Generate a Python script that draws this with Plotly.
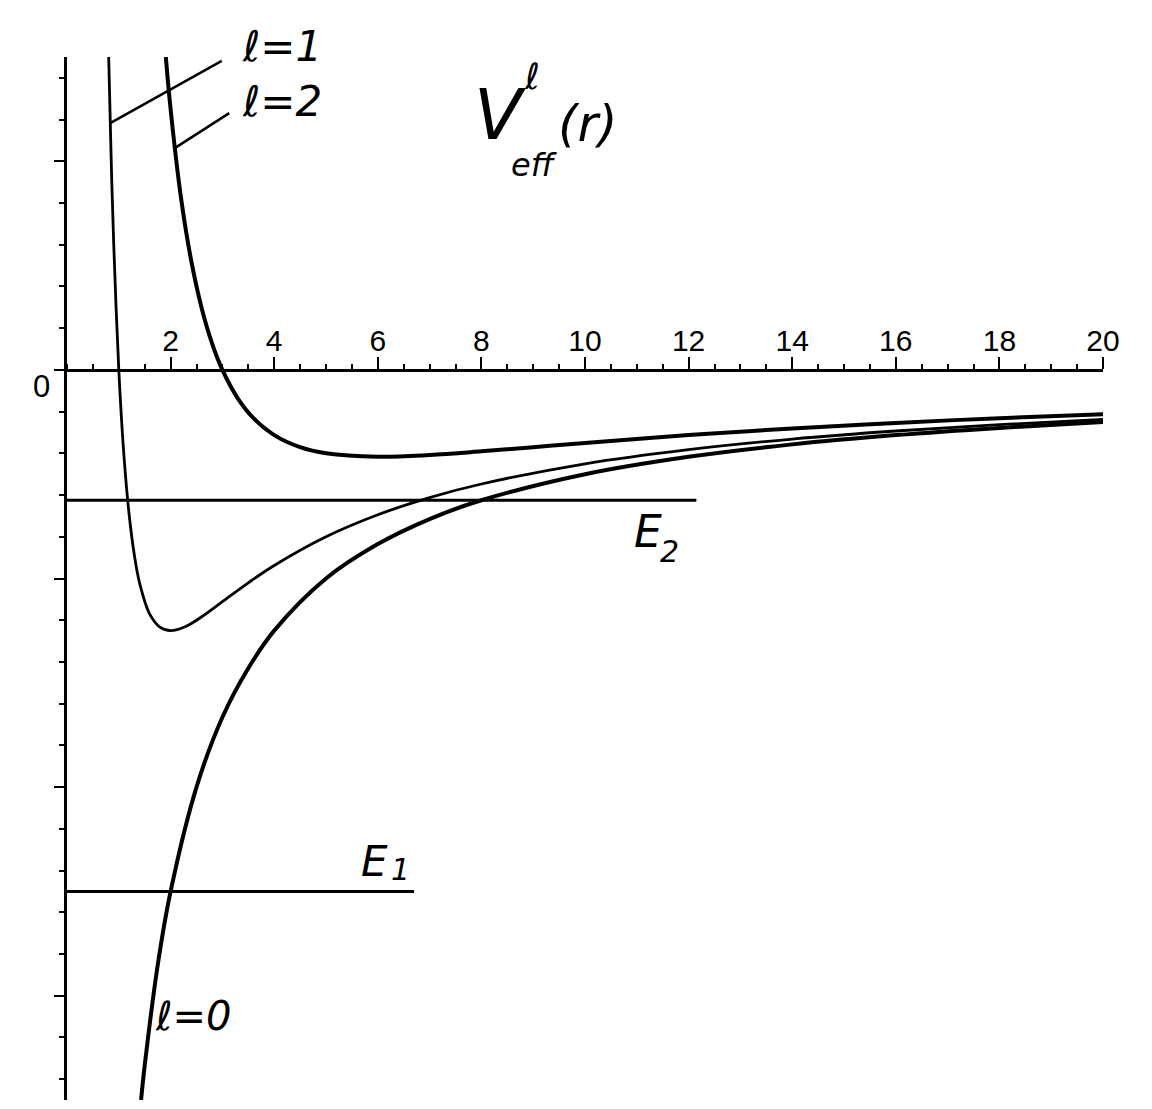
import plotly.graph_objects as go

# ---- data (atomic units, hydrogen) ----
r_l0 = [1.43, 1.5, 1.75, 2.0, 2.5, 3.0, 3.5, 4.0, 5.0, 6.0, 7.0, 8.0, 10.0, 12.0, 14.0, 16.0, 18.0, 20.0]
v_l0 = [-0.70, -0.667, -0.571, -0.50, -0.40, -0.333, -0.286, -0.25, -0.20, -0.167, -0.143, -0.125,
        -0.10, -0.0833, -0.0714, -0.0625, -0.0556, -0.05]

r_l1 = [0.805, 0.85, 0.9, 1.0, 1.1, 1.2, 1.3, 1.4, 1.6, 1.8, 2.0, 2.3, 2.6, 3.0, 3.5, 4.0, 5.0,
        6.0, 7.0, 8.0, 10.0, 12.0, 14.0, 16.0, 18.0, 20.0]
v_l1 = [0.30, 0.2076, 0.1235, 0.0, -0.0826, -0.1389, -0.1775, -0.2041, -0.2344, -0.2469, -0.25,
        -0.2457, -0.2367, -0.2222, -0.2041, -0.1875, -0.16, -0.1389, -0.1224, -0.1094, -0.09,
        -0.0764, -0.0663, -0.0586, -0.0525, -0.0475]

r_l2 = [1.908, 2.0, 2.2, 2.4, 2.6, 2.8, 3.0, 3.3, 3.6, 4.0, 4.5, 5.0, 6.0, 7.0, 8.0, 9.0, 10.0,
        12.0, 14.0, 16.0, 18.0, 20.0]
v_l2 = [0.30, 0.25, 0.1653, 0.1042, 0.0592, 0.0255, 0.0, -0.0275, -0.0463, -0.0625, -0.0741, -0.08,
        -0.0833, -0.0816, -0.0781, -0.0741, -0.07, -0.0625, -0.0561, -0.0508, -0.0463, -0.0425]

e_levels = [-0.5, -0.125]          # E1, E2
e_extent = [6.7, 12.15]            # how far each level line is drawn in r

x_ticks = [2, 4, 6, 8, 10, 12, 14, 16, 18, 20]
x_ticklabels = [str(v) for v in x_ticks]

HAND = "DejaVu Sans"

fig = go.Figure()

# energy levels
for e, xe in zip(e_levels, e_extent):
    fig.add_trace(go.Scatter(x=[0, xe], y=[e, e], mode="lines",
                             line=dict(color="black", width=3), hoverinfo="skip"))

fig.add_trace(go.Scatter(x=r_l1, y=v_l1, mode="lines", line=dict(color="black", width=2.8, shape="spline")))
fig.add_trace(go.Scatter(x=r_l0, y=v_l0, mode="lines", line=dict(color="black", width=4, shape="spline")))
fig.add_trace(go.Scatter(x=r_l2, y=v_l2, mode="lines", line=dict(color="black", width=4, shape="spline")))


def hand(x, y, text, size, yref="y"):
    return dict(x=x, y=y, yref=yref, xanchor="center", yanchor="middle",
                text=f"<i>{text}</i>", showarrow=False,
                font=dict(family=HAND, size=size, color="black"))


ann = []
# curve labels (handwritten style)
ann.append(hand(4.16, 1.0097, "ℓ=1", 42, yref="paper"))
ann.append(hand(4.16, 0.257, "ℓ=2", 42))
ann.append(hand(2.44, -0.619, "ℓ=0", 40))
# leader lines
ann.append(dict(x=0.835, y=0.2366, text=" ", showarrow=True, arrowhead=0, arrowwidth=2.5,
                arrowcolor="black", ax=113, ay=-63, font=dict(size=1)))
ann.append(dict(x=2.08, y=0.2126, text=" ", showarrow=True, arrowhead=0, arrowwidth=2.5,
                arrowcolor="black", ax=56, ay=-36, font=dict(size=1)))
# V_eff^l(r)
ann.append(hand(8.36, 0.2446, "V", 70))
ann.append(hand(8.97, 0.281, "ℓ", 36))
ann.append(hand(9.02, 0.196, "eff", 32))
ann.append(hand(10.05, 0.2359, "(r)", 50))
# energy labels
ann.append(hand(11.21, -0.155, "E", 44))
ann.append(hand(11.64, -0.1745, "2", 30))
ann.append(hand(5.94, -0.471, "E", 42))
ann.append(hand(6.44, -0.479, "1", 30))
# zero label of the y axis
ann.append(dict(x=-0.014, xref="paper", y=-0.0159, xanchor="right", yanchor="middle",
                text="0", showarrow=False,
                font=dict(family="Liberation Sans", size=31, color="black")))

fig.update_layout(
    width=1136, height=1093,
    margin=dict(l=59, r=41, t=49, b=1),
    paper_bgcolor="white", plot_bgcolor="white",
    showlegend=False,
    annotations=ann,
    xaxis=dict(range=[0, 20], anchor="free", position=0.7, side="top",
               showline=True, linecolor="black", linewidth=3,
               showgrid=False, zeroline=False,
               tickmode="array", tickvals=x_ticks, ticktext=x_ticklabels,
               ticks="outside", ticklen=12, tickwidth=1.5, tickcolor="black",
               ticklabelstandoff=-6,
               tickfont=dict(family="Liberation Sans", size=30, color="black"),
               minor=dict(dtick=0.5, tick0=0, ticks="outside", ticklen=5, tickwidth=1.5,
                          tickcolor="black", showgrid=False)),
    yaxis=dict(range=[-0.7, 0.3], showline=True, linecolor="black", linewidth=3,
               showgrid=False, zeroline=False, showticklabels=False,
               dtick=0.2, tick0=0, ticks="outside", ticklen=10, tickwidth=1.5, tickcolor="black",
               minor=dict(dtick=0.04, tick0=0, ticks="outside", ticklen=5, tickwidth=1.5,
                          tickcolor="black", showgrid=False)),
)

fig.write_html("out.html")
